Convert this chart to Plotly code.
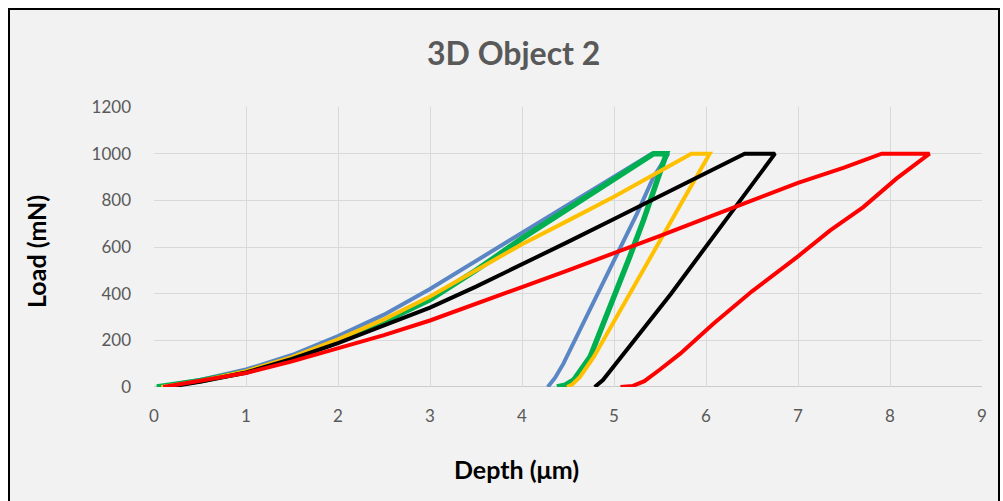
import plotly.graph_objects as go

# Load–depth indentation curves (loading, hold at peak, unloading)
blue_depth = [0.05, 0.5, 1, 1.5, 2, 2.5, 3, 3.5, 4, 4.5, 5, 5.41, 5.59,
              5.43, 5.25, 5.05, 4.85, 4.65, 4.45, 4.36, 4.28]
blue_load = [0, 30, 75, 137, 218, 310, 420, 540, 661, 781, 901, 1000, 1000,
             900, 743, 580, 420, 260, 100, 40, 0]

green_depth = [0.03, 0.5, 1, 1.5, 2, 2.5, 3, 3.5, 4, 4.5, 5, 5.43, 5.57,
               5.46, 5.32, 5.17, 5.03, 4.88, 4.74, 4.56, 4.47, 4.38]
green_load = [0, 27, 64, 123, 194, 280, 375, 500, 637, 762, 887, 1000, 1000,
              871, 714, 557, 414, 271, 129, 29, 8, 0]

yellow_depth = [0.08, 0.5, 1, 1.5, 2, 2.5, 3, 3.5, 4, 4.5, 5, 5.84, 6.04,
                5.75, 5.50, 5.25, 5.0, 4.78, 4.63, 4.55, 4.49]
yellow_load = [0, 25, 68, 128, 204, 290, 388, 500, 612, 713, 815, 1000, 1000,
               800, 625, 455, 280, 129, 43, 12, 0]

black_depth = [0.15, 0.5, 1, 1.5, 2, 2.5, 3, 3.5, 4, 4.5, 5, 5.5, 6, 6.42, 6.75,
               6.37, 6.0, 5.62, 5.2, 5.0, 4.88, 4.79]
black_load = [0, 22, 62, 120, 188, 262, 340, 430, 525, 622, 720, 818, 915, 1000, 1000,
              800, 605, 400, 190, 90, 30, 0]

red_depth = [0.1, 0.5, 1, 1.5, 2, 2.5, 3, 3.5, 4, 4.5, 5, 5.5, 6, 6.5, 7, 7.5, 7.91, 8.43,
             8.07, 7.71, 7.49, 7.35, 7.0, 6.5, 6.08, 5.72, 5.5, 5.33, 5.2, 5.07]
red_load = [0, 25, 60, 110, 166, 222, 285, 355, 428, 500, 572, 648, 724, 800, 875, 940, 1000, 1000,
            893, 771, 708, 671, 560, 410, 271, 143, 75, 25, 4, 0]

x_ticks = [0, 1, 2, 3, 4, 5, 6, 7, 8, 9]
y_ticks = [0, 200, 400, 600, 800, 1000, 1200]

series = [
    (blue_depth, blue_load, "#5a87c4", 4),
    (green_depth, green_load, "#00b050", 5.5),
    (yellow_depth, yellow_load, "#ffc000", 4),
    (black_depth, black_load, "#000000", 4),
    (red_depth, red_load, "#ff0000", 4),
]

fig = go.Figure()
for xs, ys, color, width in series:
    fig.add_trace(go.Scatter(x=xs, y=ys, mode="lines",
                             line=dict(color=color, width=width),
                             showlegend=False, hoverinfo="skip"))

W, H = 1003, 501
L, R, T, B = 154, 21, 107, 114
pw, ph = W - L - R, H - T - B


def px_x(px):
    return (px - L) / pw


def px_y(py):
    return (H - B - py) / ph


font_family = "Lato, 'Open Sans', sans-serif"
grey_text = "#595959"

fig.update_layout(
    width=W, height=H,
    margin=dict(l=L, r=R, t=T, b=B),
    paper_bgcolor="#f2f2f2",
    plot_bgcolor="#f2f2f2",
    font=dict(family=font_family, color=grey_text),
    xaxis=dict(range=[0, 9], tickvals=x_ticks, ticktext=[str(v) for v in x_ticks],
               showgrid=True, gridcolor="#d9d9d9", gridwidth=1,
               zeroline=False, showline=False, ticks="",
               tickfont=dict(size=17, color=grey_text, family=font_family),
               ticklabelstandoff=17, fixedrange=True),
    yaxis=dict(range=[0, 1200], tickvals=y_ticks, ticktext=[str(v) for v in y_ticks],
               showgrid=True, gridcolor="#d9d9d9", gridwidth=1,
               zeroline=False, showline=False, ticks="",
               tickfont=dict(size=17, color=grey_text, family=font_family),
               ticklabelstandoff=22, fixedrange=True),
)

# baseline along zero load
fig.add_shape(type="line", xref="x", yref="y", x0=0, x1=9, y0=0, y1=0,
              line=dict(color="#bfbfbf", width=1.5), layer="below")

# white surround and black frame of the chart area
for x0, x1, y0, y1 in [(-20, 8, -20, H + 20), (1000, W + 20, -20, H + 20), (-20, W + 20, -20, 8)]:
    fig.add_shape(type="rect", xref="paper", yref="paper",
                  x0=px_x(x0), x1=px_x(x1), y0=px_y(y1), y1=px_y(y0),
                  fillcolor="white", line=dict(width=0), layer="above")
fig.add_shape(type="rect", xref="paper", yref="paper",
              x0=px_x(9), x1=px_x(999), y0=px_y(520), y1=px_y(9),
              fillcolor="rgba(0,0,0,0)", line=dict(color="black", width=2), layer="above")

fig.add_annotation(text="<b>3D Object 2</b>", xref="paper", yref="paper",
                   x=px_x(513), y=px_y(52), showarrow=False,
                   font=dict(size=32, color=grey_text, family=font_family),
                   xanchor="center", yanchor="middle")
fig.add_annotation(text="<b>Load (mN)</b>", xref="paper", yref="paper",
                   x=px_x(36), y=px_y(252), showarrow=False, textangle=-90,
                   font=dict(size=25, color="#000000", family=font_family),
                   xanchor="center", yanchor="middle")
fig.add_annotation(text="<b>Depth (μm)</b>", xref="paper", yref="paper",
                   x=px_x(516), y=px_y(469), showarrow=False,
                   font=dict(size=25, color="#000000", family=font_family),
                   xanchor="center", yanchor="middle")

fig.write_html("out.html", config={"displayModeBar": False})
